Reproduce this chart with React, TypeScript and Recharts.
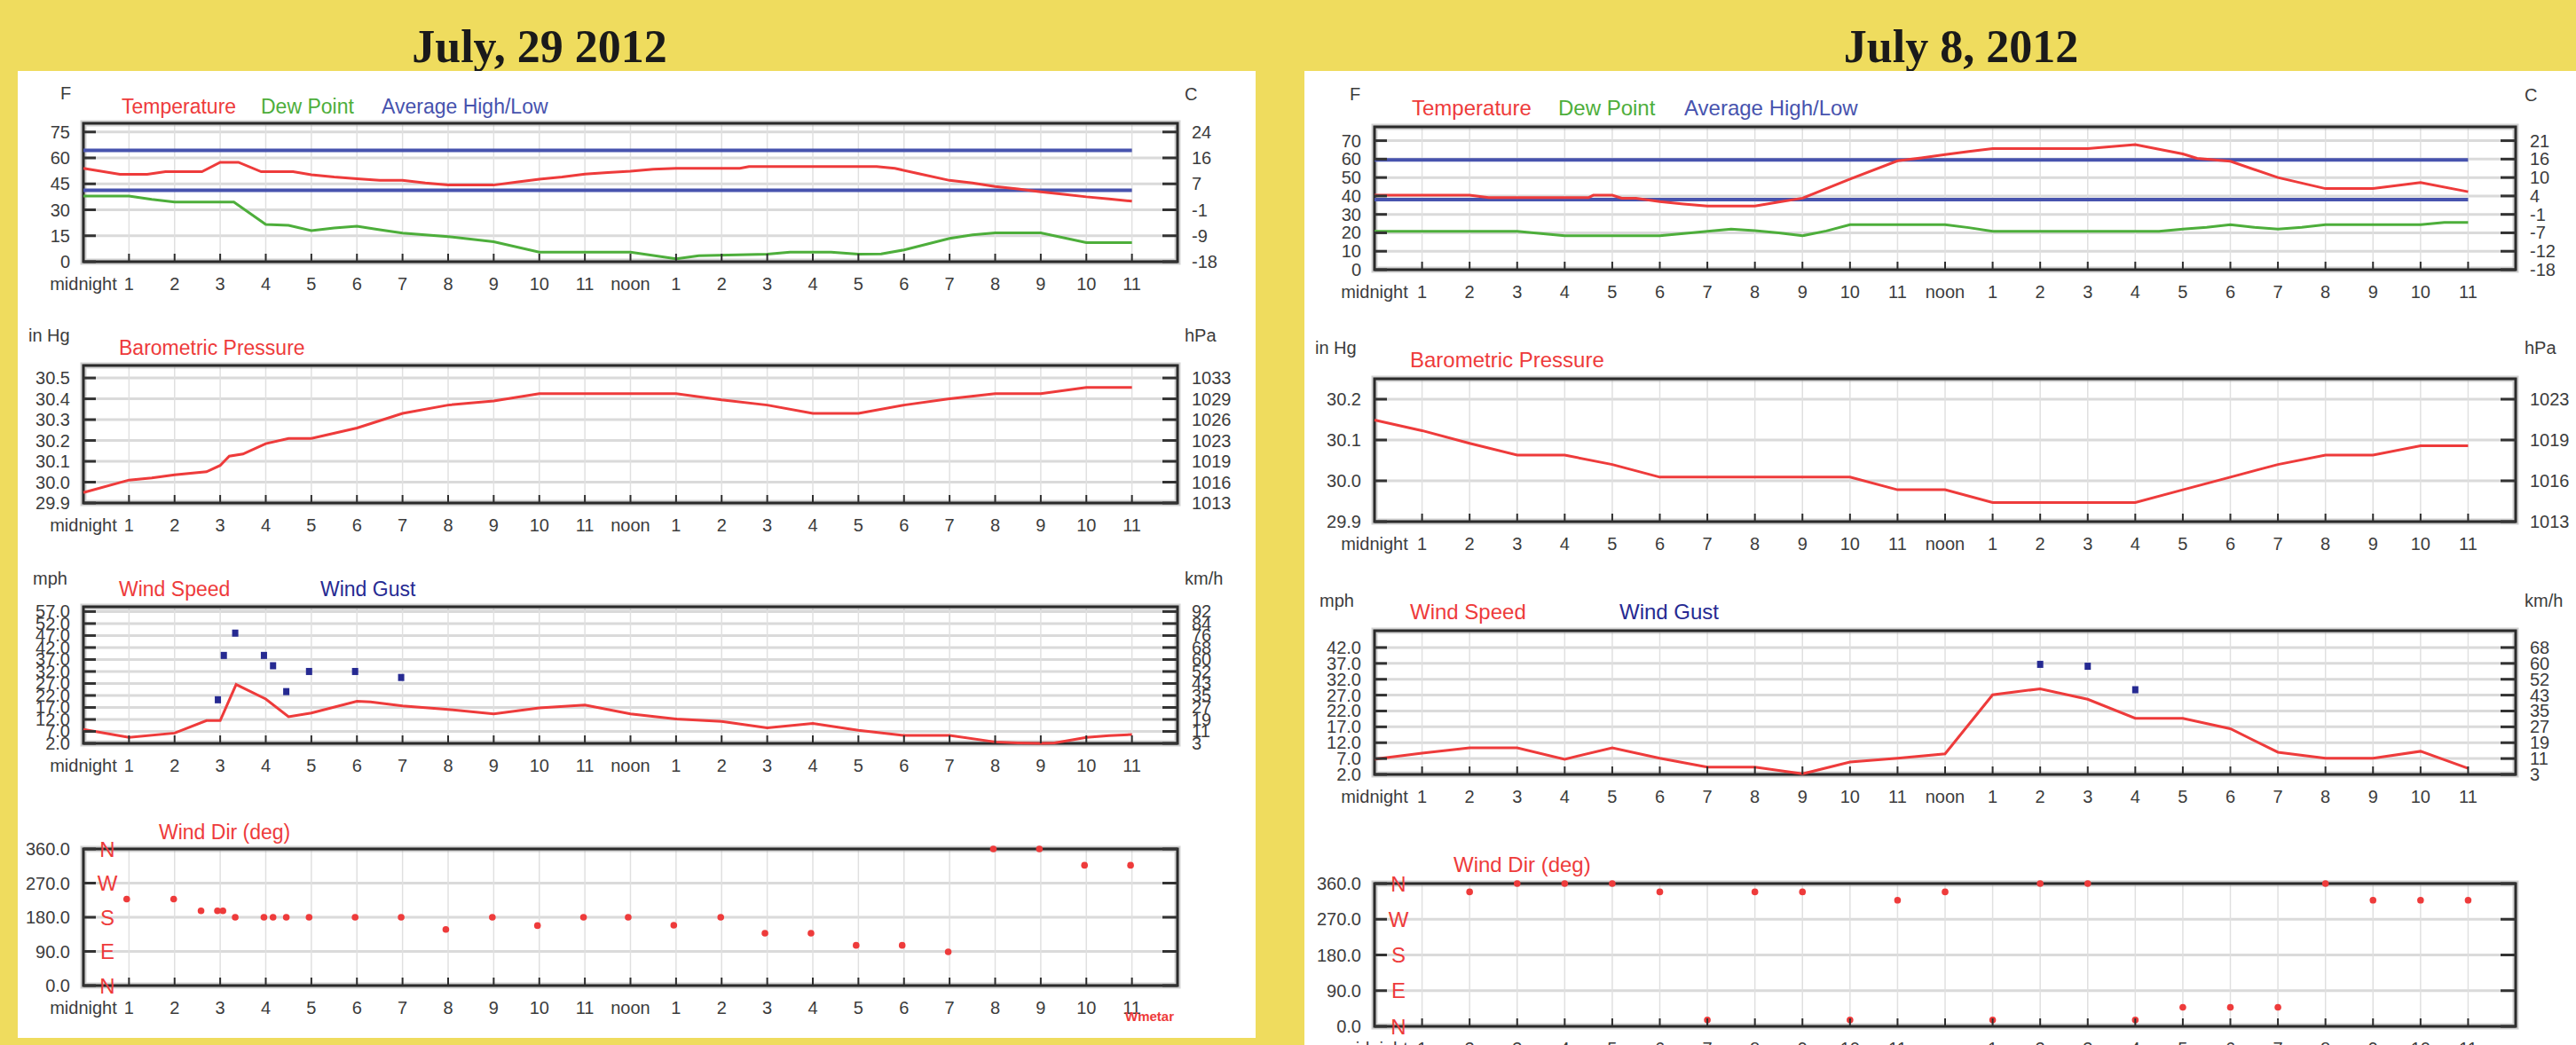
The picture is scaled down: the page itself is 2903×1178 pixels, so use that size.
import React from "react";
import {
  ComposedChart,
  Line,
  Scatter,
  XAxis,
  YAxis,
  CartesianGrid,
  ReferenceArea,
} from "recharts";

type Pt = [number, number];

const hourTicks = [0, 1, 2, 3, 4, 5, 6, 7, 8, 9, 10, 11, 12, 13, 14, 15, 16, 17, 18, 19, 20, 21, 22, 23];
const hourLabels = [
  "midnight", "1", "2", "3", "4", "5", "6", "7", "8", "9", "10", "11",
  "noon", "1", "2", "3", "4", "5", "6", "7", "8", "9", "10", "11",
];
const compassLabels = ["N", "E", "S", "W", "N"];

// ---- July 29 ----
const tempTicks29 = [0, 15, 30, 45, 60, 75];
const tempF29 = ["0", "15", "30", "45", "60", "75"];
const tempC29 = ["-18", "-9", "-1", "7", "16", "24"];
const temp29: Pt[] = [
  [0, 54], [0.8, 50.5], [1.4, 50.5], [1.8, 52], [2.6, 52], [3, 57.5], [3.4, 57.5], [3.9, 52],
  [4.6, 52], [5, 50.3], [5.5, 49], [6, 48], [6.5, 47], [7, 47], [7.5, 45.5], [8, 44.3], [9, 44.3],
  [9.5, 46], [10, 47.7], [10.5, 49], [11, 50.6], [11.5, 51.5], [12, 52.3], [12.5, 53.5], [13, 54],
  [14.4, 54], [14.6, 55], [17.4, 55], [17.8, 54], [18.3, 51], [19, 47], [19.5, 45.5], [20, 43.5],
  [20.5, 42], [21, 40.4], [21.5, 39], [22, 37.5], [22.5, 36.3], [23, 35],
];
const dew29: Pt[] = [
  [0, 38], [1, 38], [1.5, 36], [2, 34.5], [3.3, 34.5], [4, 21.5], [4.5, 21], [5, 18], [5.5, 19.5],
  [6, 20.5], [6.5, 18.5], [7, 16.5], [8, 14.5], [9, 11.5], [10, 5.5], [12, 5.5], [13, 1.7],
  [13.5, 3.5], [15, 4.3], [15.5, 5.5], [16.4, 5.5], [17, 4.3], [17.5, 4.5], [18, 6.8], [19, 13.5],
  [19.5, 15.5], [20, 16.7], [21, 16.7], [22, 11], [23, 11],
];
const avgHigh29 = 64.3;
const avgLow29 = 41.3;

const presTicks29 = [29.9, 30.0, 30.1, 30.2, 30.3, 30.4, 30.5];
const presIn29 = ["29.9", "30.0", "30.1", "30.2", "30.3", "30.4", "30.5"];
const presHpa29 = ["1013", "1016", "1019", "1023", "1026", "1029", "1033"];
const pres29: Pt[] = [
  [0, 29.95], [1, 30.01], [1.5, 30.02], [2, 30.035], [2.7, 30.05], [3, 30.08], [3.2, 30.125],
  [3.5, 30.135], [4, 30.185], [4.5, 30.21], [5, 30.21], [6, 30.26], [7, 30.33], [8, 30.37],
  [9, 30.39], [10, 30.425], [13, 30.425], [14, 30.395], [15, 30.37], [16, 30.33], [17, 30.33],
  [18, 30.37], [19, 30.4], [20, 30.425], [21, 30.425], [22, 30.455], [23, 30.455],
];

const windTicks29 = [2, 7, 12, 17, 22, 27, 32, 37, 42, 47, 52, 57];
const windMph29 = ["2.0", "7.0", "12.0", "17.0", "22.0", "27.0", "32.0", "37.0", "42.0", "47.0", "52.0", "57.0"];
const windKmh29 = ["3", "11", "19", "27", "35", "43", "52", "60", "68", "76", "84", "92"];
const wind29: Pt[] = [
  [0, 7.8], [1, 4.5], [2, 6.3], [2.7, 11.5], [3, 11.5], [3.35, 26.6], [4, 20.5], [4.5, 13.1],
  [5, 14.7], [6, 19.6], [6.3, 19.3], [7, 17.6], [8, 16.2], [9, 14.3], [10, 16.8], [11, 18],
  [12, 14.3], [13, 12.2], [14, 11.2], [15, 8.5], [16, 10.3], [17, 7.5], [18, 5.3], [19, 5.3],
  [20, 2.6], [20.5, 2.2], [21, 2], [21.3, 2.2], [22, 4.5], [22.5, 5.2], [23, 5.7],
];
const gust29: Pt[] = [
  [2.95, 20.2], [3.08, 38.7], [3.33, 48], [3.96, 38.7], [4.16, 34.4], [4.45, 23.6], [4.95, 32],
  [5.96, 32], [6.97, 29.5],
];

const dirTicks = [0, 90, 180, 270, 360];
const dirLabels = ["0.0", "90.0", "180.0", "270.0", "360.0"];
const dir29: Pt[] = [
  [0.95, 228], [1.98, 228], [2.58, 197], [2.94, 197], [3.06, 197], [3.33, 180], [3.96, 180],
  [4.16, 180], [4.45, 180], [4.95, 180], [5.96, 180], [6.97, 180], [7.95, 148], [8.97, 180],
  [9.96, 158], [10.97, 180], [11.95, 180], [12.95, 159], [13.98, 180], [14.95, 138], [15.96, 138],
  [16.95, 106], [17.96, 106], [18.97, 89], [19.96, 360], [20.97, 360], [21.96, 317], [22.97, 317],
];

// ---- July 8 ----
const tempTicks8 = [0, 10, 20, 30, 40, 50, 60, 70];
const tempF8 = ["0", "10", "20", "30", "40", "50", "60", "70"];
const tempC8 = ["-18", "-12", "-7", "-1", "4", "10", "16", "21"];
const temp8: Pt[] = [
  [0, 40.4], [2, 40.4], [2.4, 39.1], [4.5, 39.1], [4.6, 40.4], [5, 40.4], [5.2, 38.8], [5.5, 38.8],
  [6, 36.9], [6.5, 35.6], [7, 34.5], [8, 34.5], [8.5, 36.7], [9, 38.8], [10, 49.2], [11, 59.1],
  [11.5, 60.7], [12, 62.5], [12.5, 64.1], [13, 65.7], [15, 65.7], [15.5, 66.8], [16, 67.9],
  [17, 62.8], [17.3, 60.4], [18, 58.8], [19, 50], [20, 44], [21, 44], [22, 47.3], [23, 42.3],
];
const dew8: Pt[] = [
  [0, 20.8], [3, 20.8], [3.5, 19.6], [4, 18.4], [6, 18.4], [6.5, 19.6], [7, 20.8], [7.5, 22],
  [8, 21.2], [8.5, 20], [9, 18.4], [9.5, 21], [10, 24.4], [12, 24.4], [12.5, 22.8], [13, 20.8],
  [16.5, 20.8], [17, 22], [17.5, 23], [18, 24.4], [18.5, 23], [19, 22], [19.5, 23], [20, 24.4],
  [22, 24.4], [22.5, 25.6], [23, 25.6],
];
const avgHigh8 = 59.6;
const avgLow8 = 38;

const presTicks8 = [29.9, 30.0, 30.1, 30.2];
const presIn8 = ["29.9", "30.0", "30.1", "30.2"];
const presHpa8 = ["1013", "1016", "1019", "1023"];
const pres8: Pt[] = [
  [0, 30.149], [1, 30.123], [2, 30.092], [3, 30.063], [4, 30.063], [5, 30.04], [6, 30.009],
  [10, 30.009], [11, 29.978], [12, 29.978], [13, 29.947], [16, 29.947], [17, 29.978], [18, 30.009],
  [19, 30.04], [20, 30.063], [21, 30.063], [22, 30.086], [23, 30.086],
];

const windTicks8 = [2, 7, 12, 17, 22, 27, 32, 37, 42];
const windMph8 = ["2.0", "7.0", "12.0", "17.0", "22.0", "27.0", "32.0", "37.0", "42.0"];
const windKmh8 = ["3", "11", "19", "27", "35", "43", "52", "60", "68"];
const wind8: Pt[] = [
  [0, 6.8], [1, 8.7], [2, 10.4], [3, 10.4], [4, 6.8], [5, 10.4], [6, 7.1], [7, 4.3], [8, 4.3],
  [9, 2.2], [10, 5.9], [11, 7.1], [12, 8.5], [13, 27.1], [14, 29], [15, 25.7], [16, 19.7],
  [17, 19.7], [18, 16.4], [19, 9], [20, 7.1], [21, 7.1], [22, 9.3], [23, 3.9],
];
const gust8: Pt[] = [[14, 36.7], [15, 36.1], [16, 28.7]];

const dir8: Pt[] = [
  [2, 339], [3, 360], [4, 360], [5, 360], [6, 339], [7, 16], [8, 339], [9, 339], [10, 16],
  [11, 318], [12, 339], [13, 16], [14, 360], [15, 360], [16, 16], [17, 48], [18, 48], [19, 48],
  [20, 360], [21, 318], [22, 318], [23, 318],
];

const RED = "#ee3b3b";
const GREEN = "#4dae3b";
const BLUE = "#4753ae";
const NAVY = "#262a92";
const TEXT = "#3c3c3c";
const YELLOW = "#efdc5e";
const FONT = "'Liberation Sans', Arial, sans-serif";

const rows = (pts: Pt[]) => pts.map(([h, v]) => ({ h, v }));

function HourTick(props: any) {
  const { x, y, payload } = props;
  const v = payload.value;
  return (
    <g>
      {v > 0 && <line x1={x} x2={x} y1={y} y2={y - 9} stroke="#2e2e2e" strokeWidth={2} />}
      <text x={x} y={y + 25} textAnchor="middle" dominantBaseline="central" fontSize={20} fontFamily={FONT} fill={TEXT}>
        {hourLabels[v]}
      </text>
    </g>
  );
}

function LeftTick(props: any) {
  const { x, y, index, labels, compass } = props;
  return (
    <g>
      <line x1={x} x2={x + 14} y1={y} y2={y} stroke="#333" strokeWidth={3} />
      <text x={x - 15} y={y} textAnchor="end" dominantBaseline="central" fontSize={20} fontFamily={FONT} fill={TEXT}>
        {labels[index]}
      </text>
      {compass && (
        <text x={x + 27} y={y} textAnchor="middle" dominantBaseline="central" fontSize={24} fontFamily={FONT} fill={RED}>
          {compassLabels[index]}
        </text>
      )}
    </g>
  );
}

function RightTick(props: any) {
  const { x, y, index, labels } = props;
  return (
    <g>
      <line x1={x} x2={x - 17} y1={y} y2={y} stroke="#333" strokeWidth={3} />
      <text x={x + 16} y={y} textAnchor="start" dominantBaseline="central" fontSize={20} fontFamily={FONT} fill={TEXT}>
        {labels[index] ?? ""}
      </text>
    </g>
  );
}

interface PlotProps {
  x: number;
  y: number;
  w: number;
  h: number;
  domain: [number, number];
  ticks: number[];
  leftLabels: string[];
  rightLabels: string[];
  compass?: boolean;
  lines?: { pts: Pt[]; color: string; width?: number }[];
  dots?: { pts: Pt[]; color: string; square?: boolean }[];
}

function Plot({ x, y, w, h, domain, ticks, leftLabels, rightLabels, compass, lines = [], dots = [] }: PlotProps) {
  const LW = 90;
  const RW = 60;
  const TOP = 12;
  const XH = 50;
  return (
    <div style={{ position: "absolute", left: x - LW, top: y - TOP }}>
      <ComposedChart width={LW + w + RW} height={TOP + h + XH} margin={{ top: TOP, right: 0, bottom: 0, left: 0 }}>
        <CartesianGrid vertical={false} stroke="#dadada" strokeWidth={3} />
        <CartesianGrid horizontal={false} stroke="#e0e0e0" strokeWidth={1.5} />
        <XAxis
          dataKey="h"
          type="number"
          domain={[0, 24]}
          ticks={hourTicks}
          interval={0}
          height={XH}
          tickSize={0}
          tickMargin={0}
          axisLine={false}
          tick={<HourTick />}
        />
        <YAxis
          type="number"
          domain={domain}
          ticks={ticks}
          interval={0}
          width={LW}
          tickSize={0}
          tickMargin={0}
          axisLine={false}
          tick={<LeftTick labels={leftLabels} compass={compass} />}
        />
        {/* the °C / hPa / km/h side: same scale, only relabelled */}
        <YAxis
          yAxisId="r"
          orientation="right"
          type="number"
          domain={domain}
          ticks={ticks}
          interval={0}
          width={RW}
          tickSize={0}
          tickMargin={0}
          axisLine={false}
          tick={<RightTick labels={rightLabels} />}
          allowDataOverflow
        />
        <ReferenceArea x1={0} x2={24} y1={domain[0]} y2={domain[1]} fill="none" stroke="#9a9a9a" strokeOpacity={0.45} strokeWidth={7} />
        <ReferenceArea x1={0} x2={24} y1={domain[0]} y2={domain[1]} fill="none" stroke="#2a2a2a" strokeWidth={3} />
        {lines.map((l, i) => (
          <Line
            key={i}
            data={rows(l.pts)}
            dataKey="v"
            type="linear"
            stroke={l.color}
            strokeWidth={l.width ?? 3}
            dot={false}
            activeDot={false}
            isAnimationActive={false}
          />
        ))}
        {dots.map((d, i) => (
          <Scatter
            key={i}
            data={rows(d.pts)}
            dataKey="v"
            fill={d.color}
            isAnimationActive={false}
            shape={(p: any) =>
              d.square ? (
                <rect x={p.cx - 3.5} y={p.cy - 4} width={7} height={8} fill={d.color} />
              ) : (
                <circle cx={p.cx} cy={p.cy} r={3.8} fill={d.color} />
              )
            }
          />
        ))}
      </ComposedChart>
    </div>
  );
}

function Txt({ x, y, children, color = TEXT, size = 20, bold = false }: any) {
  return (
    <div
      style={{
        position: "absolute",
        left: x,
        top: y,
        transform: "translateY(-50%)",
        color,
        fontSize: size,
        lineHeight: 1,
        fontFamily: FONT,
        fontWeight: bold ? 700 : 400,
        whiteSpace: "nowrap",
      }}
    >
      {children}
    </div>
  );
}

function Title({ cx, children }: any) {
  return (
    <div
      style={{
        position: "absolute",
        left: cx,
        top: 27,
        transform: "translateX(-50%)",
        fontFamily: "'Liberation Serif', 'Times New Roman', serif",
        fontWeight: 700,
        fontSize: 52,
        lineHeight: "52px",
        color: "#1a1a1a",
        whiteSpace: "nowrap",
      }}
    >
      {children}
    </div>
  );
}

export default function App() {
  return (
    <div
      style={{
        position: "absolute",
        left: 0,
        top: 0,
        width: 2903,
        height: 1178,
        background: YELLOW,
        overflow: "hidden",
      }}
    >
      <Title cx={608}>July, 29 2012</Title>
      <Title cx={2210}>July 8, 2012</Title>

      <div style={{ position: "absolute", left: 20, top: 80, width: 1395, height: 1090, background: "#fff" }} />
      <div style={{ position: "absolute", left: 1470, top: 80, width: 1433, height: 1098, background: "#fff" }} />

      {/* July 29 */}
      <Txt x={68} y={105}>F</Txt>
      <Txt x={1335} y={106}>C</Txt>
      <Txt x={137} y={120} color={RED} size={23}>Temperature</Txt>
      <Txt x={294} y={120} color={GREEN} size={23}>Dew Point</Txt>
      <Txt x={430} y={120} color={BLUE} size={23}>Average High/Low</Txt>
      <Plot
        x={94} y={139} w={1233} h={156}
        domain={[0, 80]} ticks={tempTicks29} leftLabels={tempF29} rightLabels={tempC29}
        lines={[
          { pts: [[0, avgHigh29], [23, avgHigh29]], color: BLUE, width: 4 },
          { pts: [[0, avgLow29], [23, avgLow29]], color: BLUE, width: 4 },
          { pts: dew29, color: GREEN },
          { pts: temp29, color: RED },
        ]}
      />

      <Txt x={32} y={378}>in Hg</Txt>
      <Txt x={1335} y={378}>hPa</Txt>
      <Txt x={134} y={392} color={RED} size={23}>Barometric Pressure</Txt>
      <Plot
        x={94} y={412} w={1233} h={155}
        domain={[29.9, 30.56]} ticks={presTicks29} leftLabels={presIn29} rightLabels={presHpa29}
        lines={[{ pts: pres29, color: RED }]}
      />

      <Txt x={37} y={652}>mph</Txt>
      <Txt x={1335} y={652}>km/h</Txt>
      <Txt x={134} y={664} color={RED} size={23}>Wind Speed</Txt>
      <Txt x={361} y={664} color={NAVY} size={23}>Wind Gust</Txt>
      <Plot
        x={94} y={684} w={1233} h={154}
        domain={[2, 59]} ticks={windTicks29} leftLabels={windMph29} rightLabels={windKmh29}
        lines={[{ pts: wind29, color: RED }]}
        dots={[{ pts: gust29, color: NAVY, square: true }]}
      />

      <Txt x={179} y={938} color={RED} size={23}>Wind Dir (deg)</Txt>
      <Plot
        x={94} y={957} w={1233} h={154}
        domain={[0, 360]} ticks={dirTicks} leftLabels={dirLabels} rightLabels={[]} compass
        dots={[{ pts: dir29, color: RED }]}
      />
      <Txt x={1268} y={1145} color={RED} size={15} bold>Wmetar</Txt>

      {/* July 8 */}
      <Txt x={1521} y={106}>F</Txt>
      <Txt x={2845} y={107}>C</Txt>
      <Txt x={1591} y={122} color={RED} size={24}>Temperature</Txt>
      <Txt x={1756} y={122} color={GREEN} size={24}>Dew Point</Txt>
      <Txt x={1898} y={122} color={BLUE} size={24}>Average High/Low</Txt>
      <Plot
        x={1549} y={143} w={1286} h={161}
        domain={[0, 77.5]} ticks={tempTicks8} leftLabels={tempF8} rightLabels={tempC8}
        lines={[
          { pts: [[0, avgHigh8], [23, avgHigh8]], color: BLUE, width: 4 },
          { pts: [[0, avgLow8], [23, avgLow8]], color: BLUE, width: 4 },
          { pts: dew8, color: GREEN },
          { pts: temp8, color: RED },
        ]}
      />

      <Txt x={1482} y={392}>in Hg</Txt>
      <Txt x={2845} y={392}>hPa</Txt>
      <Txt x={1589} y={406} color={RED} size={24}>Barometric Pressure</Txt>
      <Plot
        x={1549} y={427} w={1286} h={161}
        domain={[29.9, 30.25]} ticks={presTicks8} leftLabels={presIn8} rightLabels={presHpa8}
        lines={[{ pts: pres8, color: RED }]}
      />

      <Txt x={1487} y={677}>mph</Txt>
      <Txt x={2845} y={677}>km/h</Txt>
      <Txt x={1589} y={690} color={RED} size={24}>Wind Speed</Txt>
      <Txt x={1825} y={690} color={NAVY} size={24}>Wind Gust</Txt>
      <Plot
        x={1549} y={711} w={1286} h={162}
        domain={[2, 47.3]} ticks={windTicks8} leftLabels={windMph8} rightLabels={windKmh8}
        lines={[{ pts: wind8, color: RED }]}
        dots={[{ pts: gust8, color: NAVY, square: true }]}
      />

      <Txt x={1638} y={975} color={RED} size={24}>Wind Dir (deg)</Txt>
      <Plot
        x={1549} y={996} w={1286} h={161}
        domain={[0, 360]} ticks={dirTicks} leftLabels={dirLabels} rightLabels={[]} compass
        dots={[{ pts: dir8, color: RED }]}
      />
    </div>
  );
}
